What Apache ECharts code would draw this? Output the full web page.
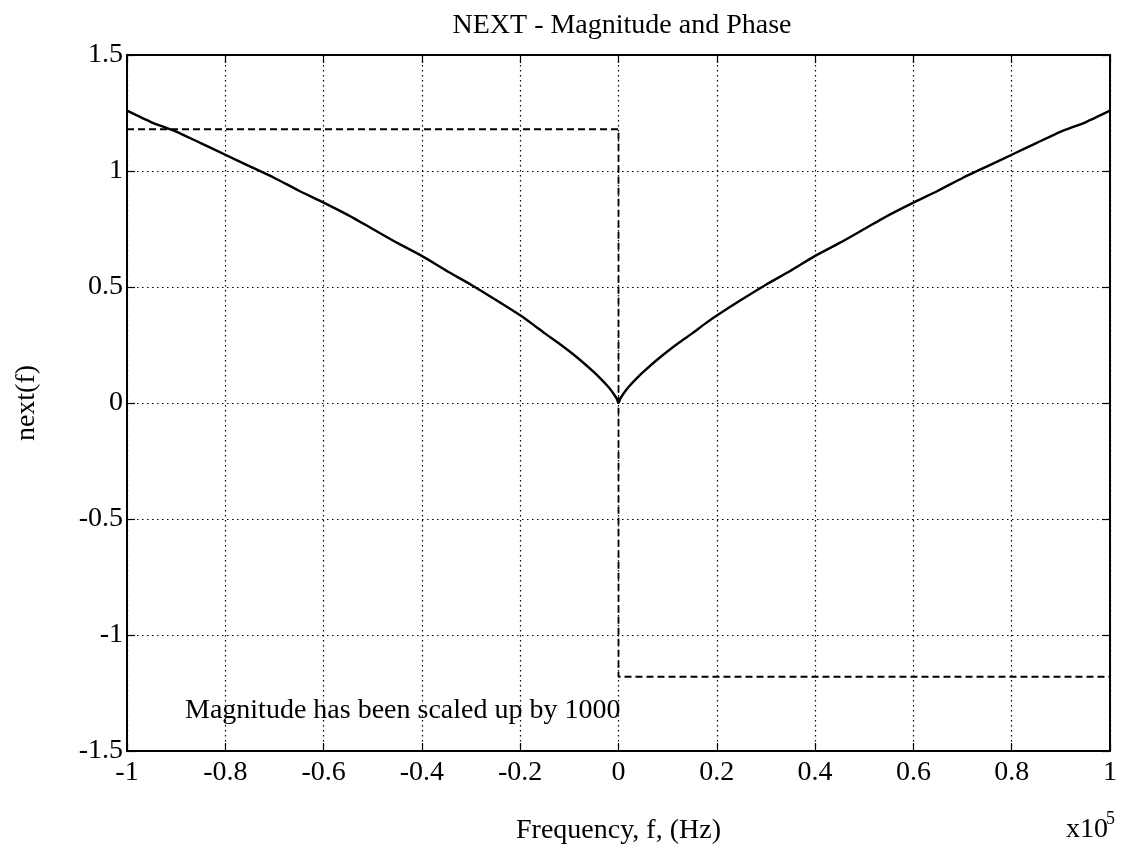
<!DOCTYPE html>
<html>
<head>
<meta charset="utf-8">
<script src="https://cdn.jsdelivr.net/npm/echarts@6/dist/echarts.min.js"></script>
<style>
  html, body { margin: 0; padding: 0; background: #fff; }
  #nextChart { width: 1132px; height: 852px; }
</style>
</head>
<body>
<div id="nextChart"></div>
<script>
// frequency in units of 1e5 Hz
const freq = [-1, -0.95, -0.9, -0.85, -0.8, -0.75, -0.7, -0.65, -0.6, -0.55, -0.5, -0.45, -0.4, -0.35, -0.3, -0.25, -0.2, -0.175, -0.15, -0.125, -0.1, -0.075, -0.05, -0.035, -0.02, -0.01, -0.004, 0,
              0.004, 0.01, 0.02, 0.035, 0.05, 0.075, 0.1, 0.125, 0.15, 0.175, 0.2, 0.25, 0.3, 0.35, 0.4, 0.45, 0.5, 0.55, 0.6, 0.65, 0.7, 0.75, 0.8, 0.85, 0.9, 0.95, 1];
// magnitude (scaled up by 1000)
const magnitude = [1.26, 1.21, 1.17, 1.12, 1.07, 1.02, 0.97, 0.915, 0.864, 0.81, 0.75, 0.69, 0.634, 0.57, 0.51, 0.445, 0.378, 0.34, 0.30, 0.263, 0.223, 0.18, 0.133, 0.102, 0.068, 0.04, 0.02, 0,
                   0.02, 0.04, 0.068, 0.102, 0.133, 0.18, 0.223, 0.263, 0.30, 0.34, 0.377, 0.445, 0.51, 0.57, 0.634, 0.69, 0.75, 0.81, 0.864, 0.915, 0.97, 1.02, 1.07, 1.12, 1.17, 1.21, 1.26];
// phase step
const phaseFreq = [-1, 0, 0, 1];
const phase = [1.18, 1.18, -1.18, -1.18];

const serif = '"Liberation Serif", "DejaVu Serif", serif';

const chartDom = document.getElementById('nextChart');
const chart = echarts.init(chartDom);

const tickStyle = { show: true, inside: true, length: 8, lineStyle: { color: '#000', width: 1.2 } };
const gridLine = { show: true, lineStyle: { color: '#000', type: [1.5, 3.5], width: 1.2 } };
const frameLine = { show: true, onZero: false, lineStyle: { color: '#000', width: 2 } };

const options = {
    animation: false,
    backgroundColor: '#fff',
    title: {
        text: 'NEXT - Magnitude and Phase',
        left: 617,
        top: 7,
        textAlign: 'center',
        textStyle: { fontFamily: serif, fontSize: 28, fontWeight: 'normal', color: '#000' }
    },
    grid: { left: 127, right: 22, top: 55, bottom: 101 },
    xAxis: [{
        type: 'value',
        min: -1,
        max: 1,
        interval: 0.2,
        name: 'Frequency, f, (Hz)',
        nameLocation: 'middle',
        nameGap: 66,
        nameTextStyle: { fontFamily: serif, fontSize: 28, color: '#000' },
        axisLine: frameLine,
        axisTick: tickStyle,
        axisLabel: { fontFamily: serif, fontSize: 28, color: '#000', margin: 8, showMinLabel: true, showMaxLabel: true },
        splitLine: gridLine
    }, {
        type: 'value',
        position: 'top',
        min: -1,
        max: 1,
        interval: 0.2,
        axisLine: frameLine,
        axisTick: tickStyle,
        axisLabel: { show: false },
        splitLine: { show: false }
    }],
    yAxis: [{
        type: 'value',
        min: -1.5,
        max: 1.5,
        interval: 0.5,
        name: 'next(f)',
        nameLocation: 'middle',
        nameGap: 86,
        nameTextStyle: { fontFamily: serif, fontSize: 28, color: '#000' },
        axisLine: frameLine,
        axisTick: tickStyle,
        axisLabel: { fontFamily: serif, fontSize: 28, color: '#000', margin: 4 },
        splitLine: gridLine
    }, {
        type: 'value',
        position: 'right',
        min: -1.5,
        max: 1.5,
        interval: 0.5,
        axisLine: frameLine,
        axisTick: tickStyle,
        axisLabel: { show: false },
        splitLine: { show: false }
    }],
    graphic: [{
        type: 'text',
        left: 185,
        top: 697,
        style: { text: 'Magnitude has been scaled up by 1000', font: '28px ' + serif, fill: '#000' }
    }, {
        type: 'text',
        left: 1066,
        top: 816,
        style: { text: 'x10', font: '28px ' + serif, fill: '#000' }
    }, {
        type: 'text',
        left: 1106,
        top: 810,
        style: { text: '5', font: '18px ' + serif, fill: '#000' }
    }],
    series: [{
        name: 'Magnitude',
        type: 'line',
        showSymbol: false,
        smooth: 0.2,
        data: freq.map((f, i) => [f, magnitude[i]]),
        lineStyle: { color: '#000', width: 2.4 },
        z: 3
    }, {
        name: 'Phase',
        type: 'line',
        showSymbol: false,
        data: phaseFreq.map((f, i) => [f, phase[i]]),
        lineStyle: { color: '#000', width: 1.8, type: [7, 4] },
        z: 2
    }]
};

chart.setOption(options);
</script>
</body>
</html>
